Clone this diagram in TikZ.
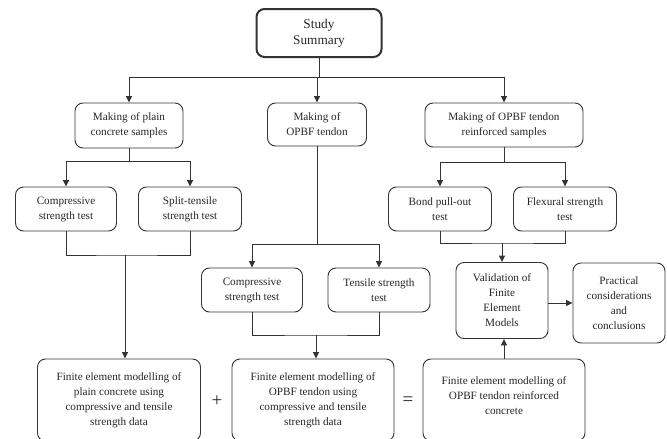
\documentclass[tikz,border=0pt]{standalone}
\usepackage{fontspec}
\setmainfont{Liberation Serif}
\usetikzlibrary{arrows.meta}
\tikzset{every path/.style={black!80, line width=0.9pt},
  box/.style={draw, rounded corners=8pt, align=center, inner sep=0pt, text=black!85, font=\fontsize{11.2}{15}\selectfont},
  arr/.style={-{Triangle[length=6.5pt,width=6pt]}}}

\begin{document}
\begin{tikzpicture}[x=1pt,y=-1pt]
  \useasboundingbox (0,0) rectangle (667,439);
  % top
  \node[box, line width=2pt, minimum width=125, minimum height=48, font=\fontsize{13.3}{16}\selectfont] (study) at (319,33) {Study\\Summary};
  % second row
  \node[box, minimum width=108, minimum height=45] (plain)  at (129,125.5) {Making of plain\\concrete samples};
  \node[box, minimum width=99,  minimum height=43] (tendon) at (317,124.5) {Making of\\OPBF tendon};
  \node[box, minimum width=158, minimum height=44] (reinf)  at (504,125)   {Making of OPBF tendon\\reinforced samples};
  % tests
  \node[box, minimum width=101, minimum height=44] (comp)  at (66,209)  {Compressive\\strength test};
  \node[box, minimum width=103, minimum height=44] (split) at (190,209) {Split-tensile\\strength test};
  \node[box, minimum width=103, minimum height=44] (bond)  at (440,209) {Bond pull-out\\test};
  \node[box, minimum width=103, minimum height=44] (flex)  at (565,209) {Flexural strength\\test};
  \node[box, minimum width=101, minimum height=44] (tcomp) at (252,290) {Compressive\\strength test};
  \node[box, minimum width=102, minimum height=44] (tens)  at (379,290) {Tensile strength\\test};
  % validation
  \node[box, minimum width=92, minimum height=76] (valid) at (502,300.5) {Validation of\\Finite\\Element\\Models};
  \node[box, minimum width=92, minimum height=80] (pract) at (619,303)   {Practical\\considerations\\and\\conclusions};
  % finite element models
  \node[box, minimum width=163, minimum height=82] (feplain)  at (119,400) {Finite element modelling of\\plain concrete using\\compressive and tensile\\strength data};
  \node[box, minimum width=162, minimum height=82] (fetendon) at (313,400) {Finite element modelling of\\OPBF tendon using\\compressive and tensile\\strength data};
  \node[box, minimum width=162, minimum height=82] (fereinf)  at (504,400) {Finite element modelling of\\OPBF tendon reinforced\\concrete\\[-7pt]\mbox{}};
  \node[font=\fontsize{19}{19}\selectfont, text=black!85] (plus)   at (217,401) {+};
  \node[font=\fontsize{19}{19}\selectfont, text=black!85] (equals) at (408,401) {=};
  % junctions
  \coordinate (jtop)    at (319,77);
  \coordinate (jplain)  at (129,161);
  \coordinate (jtendon) at (317,244);
  \coordinate (jreinf)  at (504,162);
  \coordinate (jleft)   at (125,255);
  \coordinate (jmid)    at (316,335);
  \coordinate (jright)  at (502,243);
  % connectors
  \draw (study) -- (jtop);
  \draw[arr] (jtop) -| (plain);
  \draw[arr] (jtop) -| (tendon);
  \draw[arr] (jtop) -| (reinf);
  \draw (plain) -- (jplain);
  \draw[arr] (jplain) -| (comp);
  \draw[arr] (jplain) -| (split);
  \draw (comp) |- (jleft) -| (split);
  \draw[arr] (jleft) -- (jleft |- feplain.north);
  \draw (tendon) -- (jtendon);
  \draw[arr] (jtendon) -| (tcomp);
  \draw[arr] (jtendon) -| (tens);
  \draw (tcomp) |- (jmid) -| (tens);
  \draw[arr] (jmid) -- (jmid |- fetendon.north);
  \draw (reinf) -- (jreinf);
  \draw[arr] (jreinf) -| (bond);
  \draw[arr] (jreinf) -| (flex);
  \draw (bond) |- (jright) -| (flex);
  \draw[arr] (jright) -- (valid);
  \draw[arr] (valid.east |- pract.west) -- (pract.west);
  \draw[arr] (fereinf.north) -- (fereinf.north |- valid.south);
\end{tikzpicture}
\end{document}
